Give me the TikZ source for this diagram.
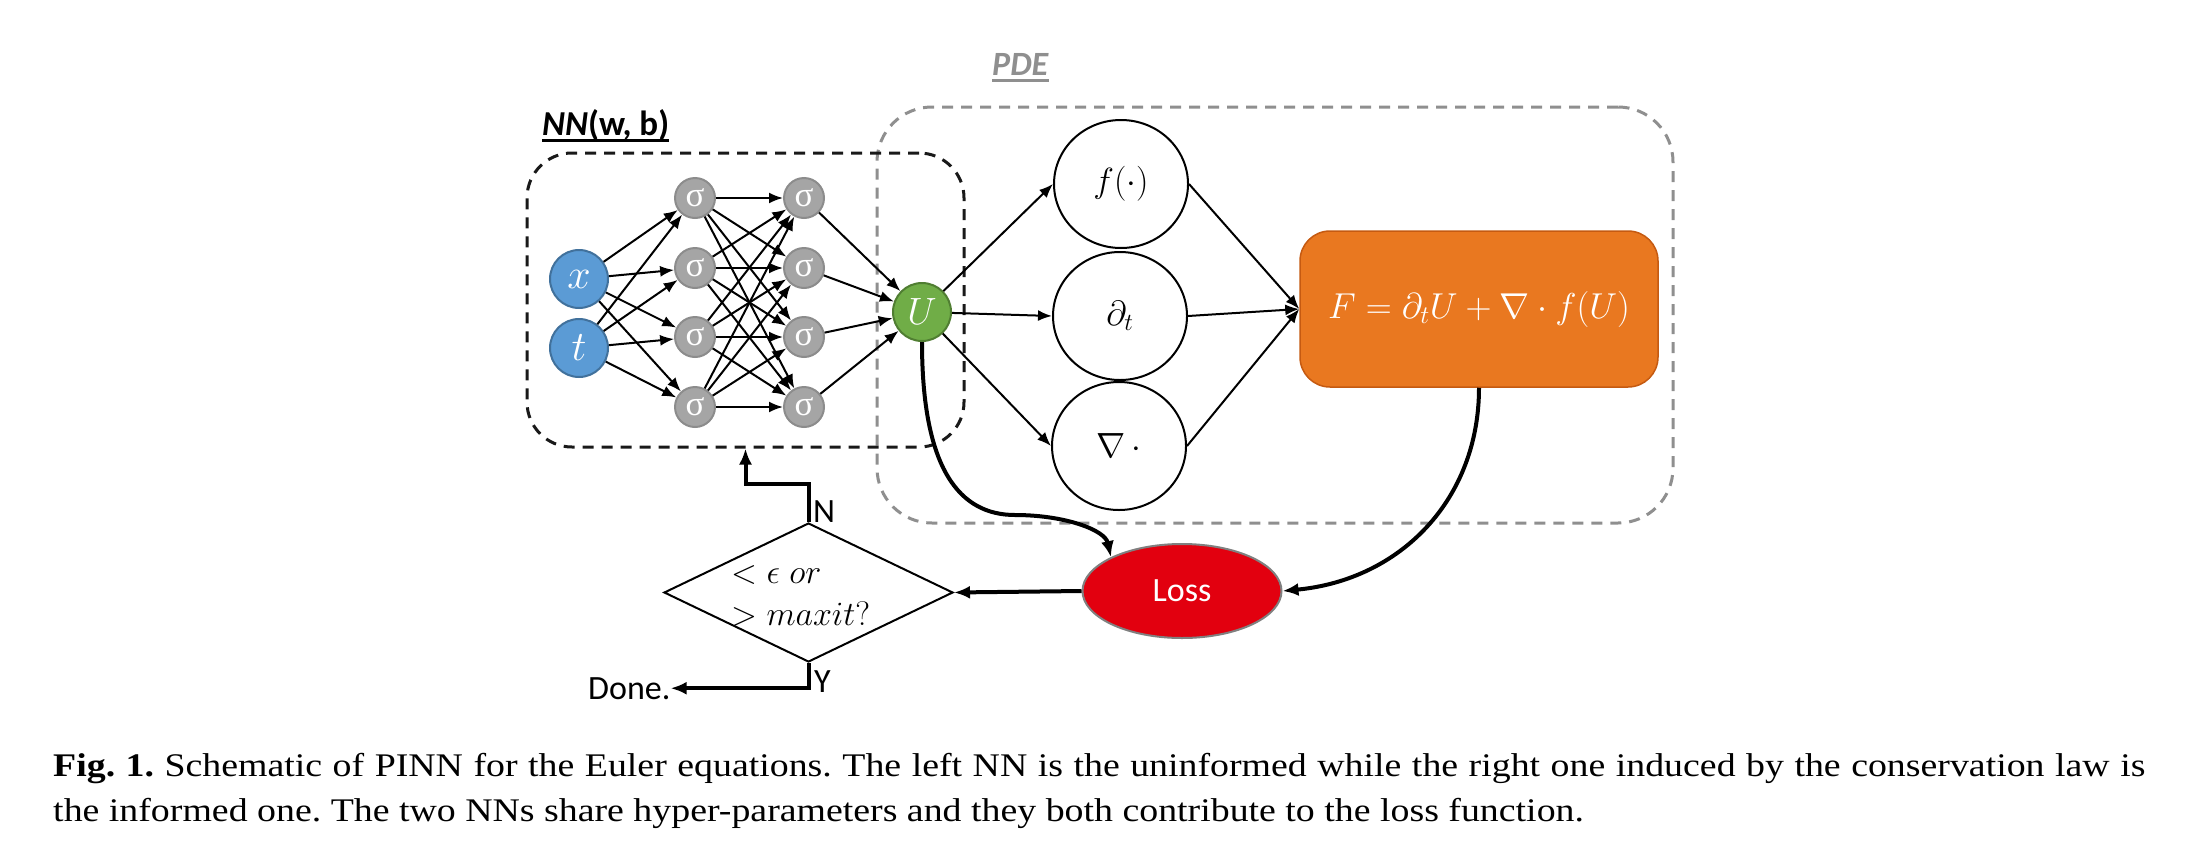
\RequirePackage{fix-cm}
\documentclass[tikz,border=0pt]{standalone}
\usepackage{fontspec}
\setmainfont{Liberation Serif}
\newfontfamily\calib{Carlito}
\usetikzlibrary{arrows.meta,shapes.geometric}
\definecolor{nnblue}{HTML}{5B9BD5}
\definecolor{nnblueb}{HTML}{41719C}
\definecolor{siggray}{HTML}{A5A5A5}
\definecolor{siggrayb}{HTML}{8C8C8C}
\definecolor{ugreen}{HTML}{70AD47}
\definecolor{ugreenb}{HTML}{507E32}
\definecolor{forange}{HTML}{E97820}
\definecolor{forangeb}{HTML}{C55A11}
\definecolor{lossred}{HTML}{E2000F}
\definecolor{pdegray}{HTML}{8F8F8F}
\newcommand\myul[2]{\setbox0\hbox{#2}\rlap{\rule[-#1]{\wd0}{3pt}}\box0}
\tikzset{
  innode/.style={circle, fill=nnblue, draw=nnblueb, line width=2pt, minimum size=58pt, inner sep=0pt, text=white, font=\fontsize{42}{42}\selectfont},
  signode/.style={circle, fill=siggray, draw=siggrayb, line width=2pt, minimum size=40pt, inner sep=0pt, text=white, font=\fontsize{35}{35}\selectfont},
  unode/.style={circle, fill=ugreen, draw=ugreenb, line width=2pt, minimum size=58pt, inner sep=0pt, text=white, font=\fontsize{38}{38}\selectfont},
  opnode/.style={ellipse, draw=black, line width=2pt, minimum width=134pt, minimum height=128pt, inner sep=0pt, font=\fontsize{35}{35}\selectfont},
  nnedge/.style={line width=2pt, -{Latex[length=14pt,width=11pt]}},
  flow/.style={line width=4pt, -{Latex[length=16pt,width=13pt]}},
  nnbox/.style={draw=black!90, line width=3pt, dash pattern=on 11pt off 8pt, rounded corners=45pt, inner sep=0pt},
  pdebox/.style={draw=pdegray, line width=3pt, dash pattern=on 11pt off 8pt, rounded corners=55pt, inner sep=0pt},
  lbl/.style={inner sep=0pt, font=\calib\fontsize{34}{34}\selectfont},
}
\begin{document}
\begin{tikzpicture}[x=1pt,y=-1pt]
\useasboundingbox (0,0) rectangle (2211,865);
% boxes
\node[pdebox, minimum width=796pt, minimum height=416pt] (pdeb) at (1275,315) {};
\node[nnbox, minimum width=437pt, minimum height=294pt] (nnb) at (745.5,300) {};
\node[anchor=base west, inner sep=0pt, font=\calib\bfseries\fontsize{35}{35}\selectfont] (nnlbl) at (542,135) {\myul{7pt}{\textit{NN}(w, b)}};
\node[anchor=base west, inner sep=0pt, text=pdegray, font=\calib\bfseries\fontsize{34}{34}\selectfont] (pdelbl) at (992,75) {\myul{7pt}{\textit{PDE}}};
% network nodes
\node[innode] (x) at (579,279) {$x$};
\node[innode] (t) at (579,348) {$t$};
\foreach \j/\yy in {1/198,2/268,3/337,4/407}{
  \node[signode] (a\j) at (695,\yy) {σ};
  \node[signode] (b\j) at (804,\yy) {σ};
}
\node[unode] (U) at (922,312) {$U$};
\node[opnode] (f) at (1121,184) {$f(\cdot)$};
\node[opnode] (dt) at (1120,316) {$\partial_t$};
\node[opnode] (nab) at (1119,446) {$\nabla\,\cdot$};
\node[rectangle, rounded corners=30pt, fill=forange, draw=forangeb, line width=1.5pt, minimum width=358pt, minimum height=156pt, inner sep=0pt, text=white, font=\fontsize{36}{36}\selectfont] (F) at (1479,309) {$F=\partial_t U+\nabla\cdot f(U)$};
\node[ellipse, fill=lossred, draw=gray, line width=2pt, minimum width=199pt, minimum height=94pt, inner sep=0pt, text=white, font=\calib\fontsize{34}{34}\selectfont] (loss) at (1182,591) {Loss};
\node[diamond, draw=black, line width=2pt, aspect=2.08, minimum width=289pt, minimum height=139pt, inner sep=0pt] (dec) at (808.5,592.5) {};
\node[anchor=base west, inner sep=0pt, font=\fontsize{34}{34}\selectfont] (dl1) at (731,583) {$<\epsilon\;or$};
\node[anchor=base west, inner sep=0pt, font=\fontsize{34}{34}\selectfont] (dl2) at (731,625) {$>maxit?$};
\node[lbl, anchor=base west] (nlbl) at (813,522) {N};
\node[lbl, anchor=base west] (ylbl) at (814,692) {Y};
\node[lbl, anchor=base west] (done) at (588,699) {Done.};
% network edges
\foreach \i in {x,t}{\foreach \j in {1,...,4}{\draw[nnedge] (\i) -- (a\j);}}
\foreach \i in {1,...,4}{\foreach \j in {1,...,4}{\draw[nnedge] (a\i) -- (b\j);}}
\foreach \j in {1,...,4}{\draw[nnedge] (b\j) -- (U);}
\draw[nnedge] (U) -- (f.west);
\draw[nnedge] (U) -- (dt.west);
\draw[nnedge] (U) -- (nab.west);
\draw[nnedge] (f.east) -- (F.west);
\draw[nnedge] (dt.east) -- (F.west);
\draw[nnedge] (nab.east) -- (F.west);
% flow
\draw[flow] (U.south) .. controls (922,470) and (960,515) .. (1015,515) .. controls (1065,515) and (1105,530) .. (loss.north west);
\draw[flow] (F.south) .. controls (1479,500) and (1400,580) .. (loss.east);
\draw[flow] (loss.west) -- (dec.east);
\draw[flow] (dec.north) -- ++(0,-38) -| (nnb.south);
\draw[flow] (dec.south) |- (done.east);
% caption
\node[anchor=north west, inner sep=0pt, xscale=1.147, transform shape, text width=1824pt, align=justify, font=\fontsize{33}{45}\selectfont\frenchspacing] (cap) at (53,753) {\textbf{Fig. 1.} Schematic of PINN for the Euler equations. The left NN is the uninformed while the right one induced by the conservation law is\linebreak the informed one. The two NNs share hyper-parameters and they both contribute to the loss function.};
\end{tikzpicture}
\end{document}
